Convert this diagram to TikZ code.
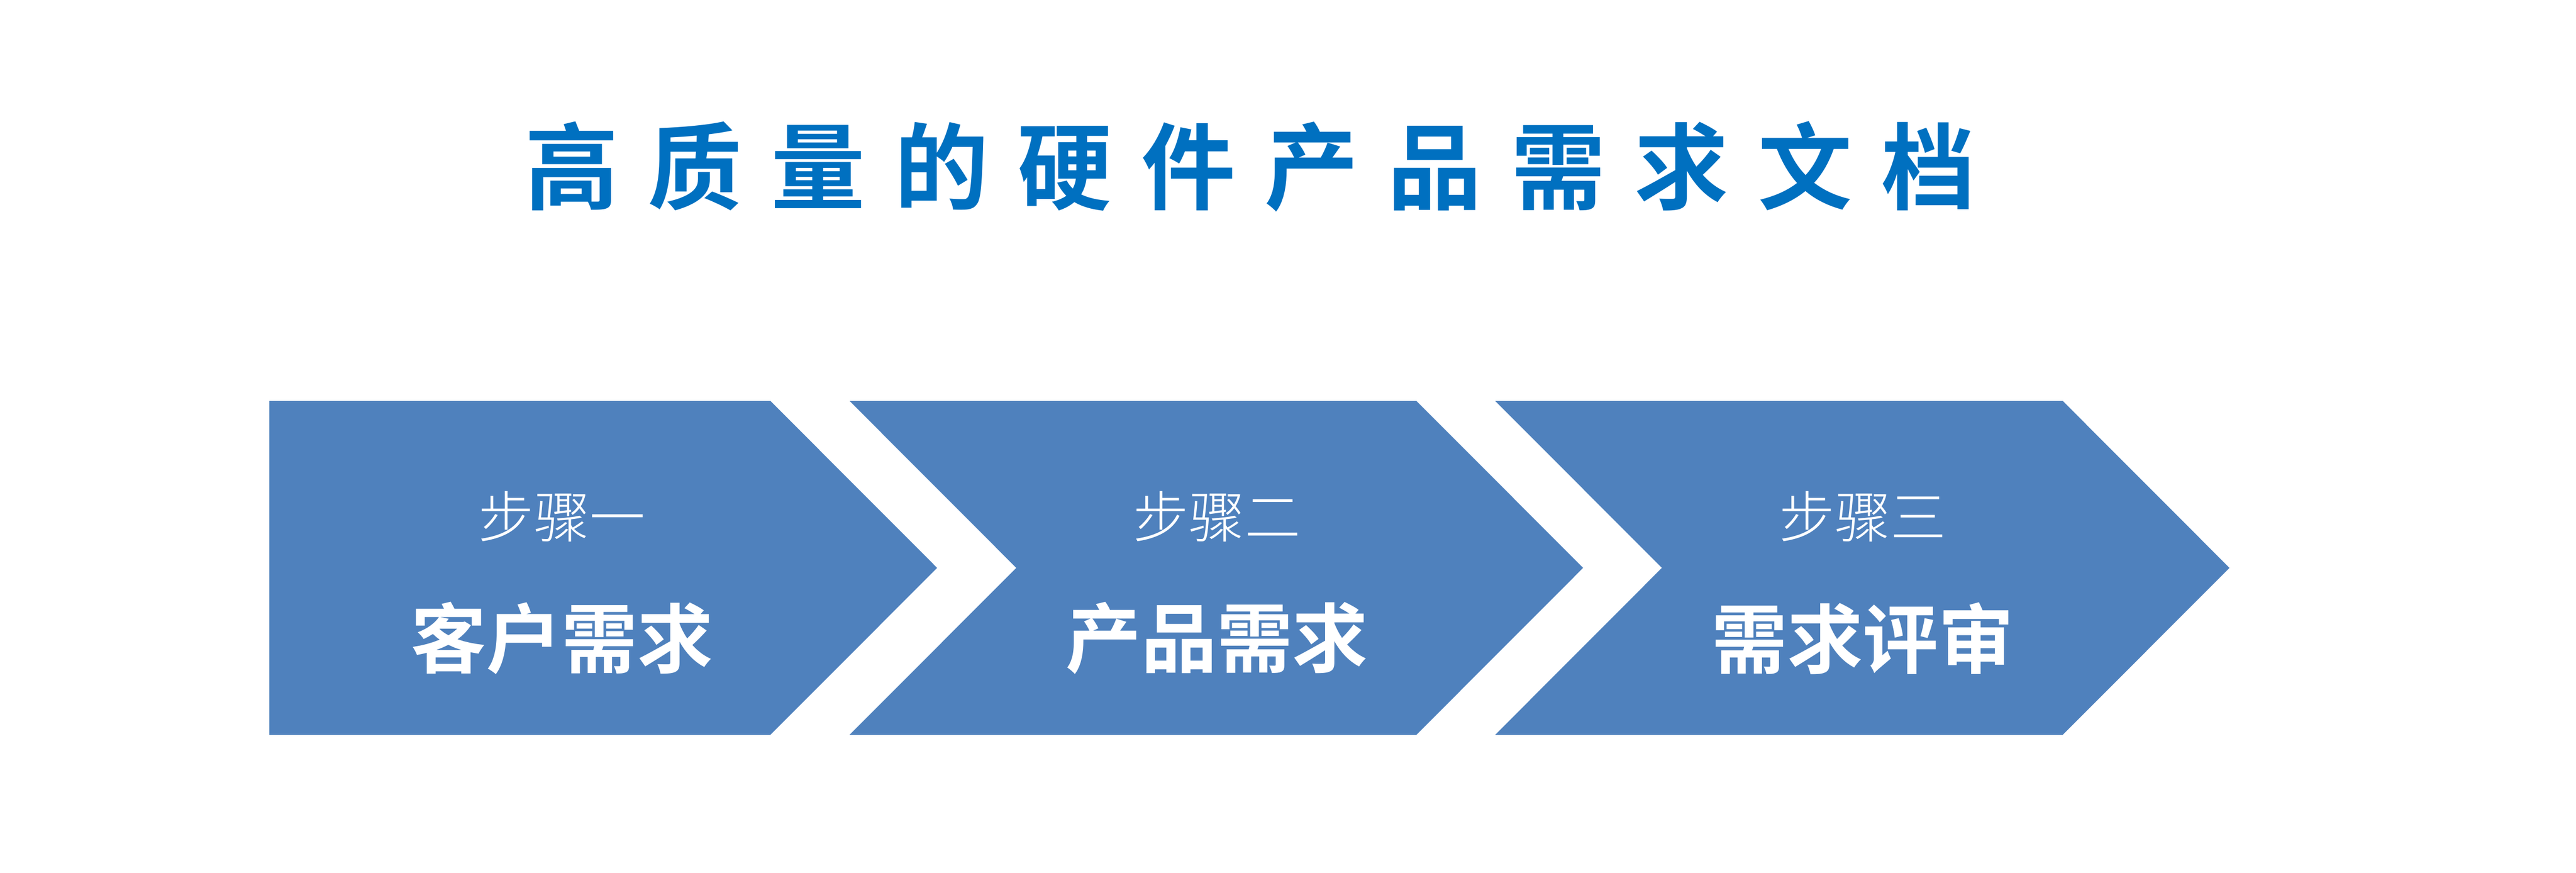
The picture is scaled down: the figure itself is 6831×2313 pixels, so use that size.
\documentclass[tikz,border=0pt]{standalone}
\usepackage{fontspec}
\usepackage{tikz}
\newfontfamily\cjkbold{Noto Sans CJK SC Bold}
\newfontfamily\cjktitle{Noto Sans CJK SC Bold}[LetterSpace=31]
\newfontfamily\cjklight{Noto Sans CJK SC Light}
\definecolor{boxblue}{HTML}{4F81BD}
\definecolor{titleblue}{HTML}{0070C0}

\begin{document}
\begin{tikzpicture}[line join=miter, x=0.01cm, y=0.01cm,
        chevron/.style={fill=boxblue, draw=none},
        steplabel/.style={text=white, font=\cjklight\fontsize{42}{48}\selectfont, inner sep=0pt},
        stepname/.style={text=white, font=\cjkbold\fontsize{57}{64}\selectfont, inner sep=0pt}]
                \useasboundingbox (0, 0) rectangle (6831, 2313);
                % title
                \node[text=titleblue, font=\cjktitle\fontsize{71}{80}\selectfont, inner sep=0pt] (title) at (3315, 1872) {高质量的硬件产品需求文档};
                % arrows
                \fill[chevron] (714, 1250) -- (2043, 1250) -- (2485, 807.5) -- (2043, 365) -- (714, 365) -- cycle;
                \fill[chevron] (2253, 1250) -- (3756, 1250) -- (4198, 807.5) -- (3756, 365) -- (2253, 365) -- (2695, 807.5) -- cycle;
                \fill[chevron] (3965, 1250) -- (5470, 1250) -- (5912, 807.5) -- (5470, 365) -- (3965, 365) -- (4407, 807.5) -- cycle;
                \foreach \cx/\num/\txt/\nm in {1490/一/客户需求/a, 3227/二/产品需求/b, 4940/三/需求评审/c}
                {
                    \node[steplabel] (\nm-step) at (\cx, 944) {步骤\num};
                    \node[stepname] (\nm-name) at (\cx, 621) {\txt};
                }
            \end{tikzpicture}
\end{document}
